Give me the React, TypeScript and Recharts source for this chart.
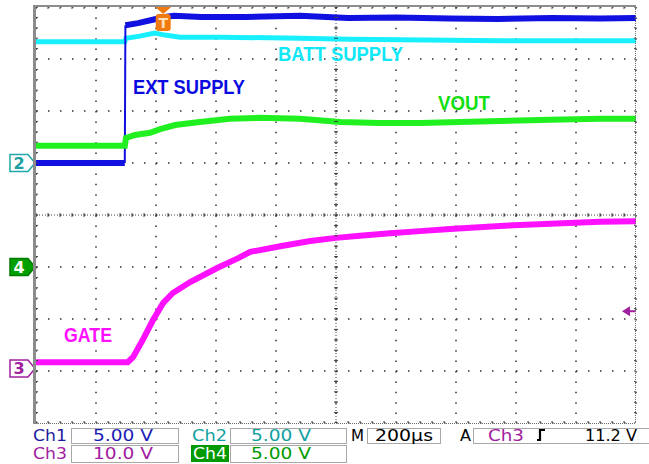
import React from 'react';
import {
  ComposedChart,
  Line,
  XAxis,
  YAxis,
  CartesianGrid,
  ReferenceLine,
  ReferenceDot,
  Scatter,
} from 'recharts';

// Coordinates in graticule divisions: x 0..10 (200µs/div), y 0..8 from bottom
const ch1X = [0, 1.48, 1.49, 1.7, 2.0, 2.15, 2.3, 2.75, 3.5, 4.4, 5.2, 6.0, 6.9, 7.7, 8.6, 9.4, 10];
const ch1Y = [5.0, 5.0, 7.65, 7.69, 7.77, 7.81, 7.83, 7.81, 7.81, 7.83, 7.79, 7.8, 7.78, 7.77, 7.79, 7.78, 7.79];

const ch2X = [0, 1.48, 1.5, 1.73, 1.98, 2.15, 2.4, 3.07, 4.4, 5.23, 6.07, 7.73, 10];
const ch2Y = [7.33, 7.33, 7.4, 7.44, 7.5, 7.46, 7.42, 7.42, 7.4, 7.38, 7.37, 7.35, 7.35];

const ch4X = [0, 1.48, 1.5, 1.65, 1.9, 2.07, 2.32, 2.73, 3.23, 3.73, 4.4, 5.07, 5.73, 6.4, 7.07, 7.73, 8.57, 9.4, 10];
const ch4Y = [5.33, 5.33, 5.48, 5.54, 5.58, 5.65, 5.73, 5.79, 5.85, 5.87, 5.85, 5.79, 5.77, 5.77, 5.79, 5.81, 5.83, 5.85, 5.85];

const ch3X = [0, 1.53, 1.62, 1.78, 1.95, 2.12, 2.28, 2.57, 3.02, 3.37, 3.57, 4.07, 4.57, 5.0, 5.4, 5.9, 6.4, 6.9, 7.73, 8.57, 9.4, 10];
const ch3Y = [1.17, 1.17, 1.27, 1.6, 1.98, 2.31, 2.5, 2.71, 2.98, 3.17, 3.29, 3.4, 3.5, 3.56, 3.6, 3.65, 3.69, 3.73, 3.79, 3.83, 3.87, 3.88];

const xTicks = [0, 1, 2, 3, 4, 5, 6, 7, 8, 9, 10];
const yTicks = [0, 1, 2, 3, 4, 5, 6, 7, 8];

// channel ground markers (level in divisions)
const markerLevels = [
  { label: '2', y: 5.0, kind: 'ch2' },
  { label: '4', y: 3.0, kind: 'ch4' },
  { label: '3', y: 1.05, kind: 'ch3' },
];
const triggerTime = 2.12;
const triggerLevel = 2.15;

const traceLabels = [
  { text: 'EXT SUPPLY', x: 133, y: 94, len: 112, color: '#0a0ae0' },
  { text: 'BATT SUPPLY', x: 278, y: 61, len: 125, color: '#10e8f8' },
  { text: 'VOUT', x: 438, y: 110, len: 52, color: '#10e010' },
  { text: 'GATE', x: 64, y: 342, len: 48, color: '#ff10ff' },
];

const zip = (xs: number[], ys: number[]) => xs.map((x, i) => ({ x, y: ys[i] }));
const ch1 = zip(ch1X, ch1Y);
const ch2 = zip(ch2X, ch2Y);
const ch3 = zip(ch3X, ch3Y);
const ch4 = zip(ch4X, ch4Y);
const ch1Before = ch1.slice(0, 2);
const ch1Edge = ch1.slice(1, 3);
const ch1After = ch1.slice(2);

const minorX = Array.from({ length: 51 }, (_, k) => k * 0.2);
const minorY = Array.from({ length: 41 }, (_, k) => k * 0.2);
const centerH = minorX.map((x) => ({ x, y: 4 }));
const centerV = minorY.map((y) => ({ x: 5, y }));
const borderB = minorX.map((x) => ({ x, y: 0 }));
const borderT = minorX.map((x) => ({ x, y: 8 }));
const borderL = minorY.map((y) => ({ x: 0, y }));
const borderR = minorY.map((y) => ({ x: 10, y }));

const W = 649;
const H = 464;
const TICK = '#404040';

const vTick = (len: number) => (p: any) => (
  <line x1={p.cx} x2={p.cx} y1={p.cy - len} y2={p.cy + len} stroke={TICK} strokeWidth={1} />
);
const hTick = (len: number) => (p: any) => (
  <line x1={p.cx - len} x2={p.cx + len} y1={p.cy} y2={p.cy} stroke={TICK} strokeWidth={1} />
);

const markerShape = (label: string, kind: string) => (p: any) => {
  const cx = p.cx;
  const cy = p.cy;
  const colors: Record<string, { stroke: string; fill: string; text: string }> = {
    ch2: { stroke: '#20a8a8', fill: '#ffffff', text: '#20a0a0' },
    ch4: { stroke: '#007a00', fill: '#00a000', text: '#ffffff' },
    ch3: { stroke: '#a020a0', fill: '#ffffff', text: '#a020a0' },
  };
  const c = colors[kind];
  const d = `M${cx - 26} ${cy - 8.5} H${cx - 8} L${cx - 1} ${cy} L${cx - 8} ${cy + 8.5} H${cx - 26} Z`;
  return (
    <g>
      <path d={d} fill={c.fill} stroke={c.stroke} strokeWidth={1.5} />
      <text
        x={cx - 17}
        y={cy + 6}
        textAnchor="middle"
        fontFamily="DejaVu Sans, sans-serif"
        fontSize={16}
        fontWeight="bold"
        fill={c.text}
      >
        {label}
      </text>
    </g>
  );
};

const triggerShape = (p: any) => {
  const cx = p.cx;
  const cy = p.cy;
  return (
    <g>
      <path d={`M${cx - 8} ${cy} H${cx + 8} L${cx} ${cy + 7} Z`} fill="#f07a10" />
      <rect x={cx - 7.5} y={cy + 7} width={15} height={17} rx={3} fill="#f07a10" />
      <text
        x={cx}
        y={cy + 21}
        textAnchor="middle"
        fontFamily="DejaVu Sans, sans-serif"
        fontSize={14}
        fontWeight="bold"
        fill="#ffe0c0"
      >
        T
      </text>
    </g>
  );
};

const levelShape = (p: any) => {
  const cx = p.cx;
  const cy = p.cy;
  return (
    <g>
      <path d={`M${cx - 14} ${cy} L${cx - 6} ${cy - 5} L${cx - 6} ${cy + 5} Z`} fill="#a020a0" />
      <line x1={cx - 6} x2={cx} y1={cy} y2={cy} stroke="#a020a0" strokeWidth={2} />
    </g>
  );
};

const Status = () => {
  const f = 'DejaVu Sans, Verdana, sans-serif';
  const t = (s: string, x: number, y: number, len: number, color: string) => (
    <text x={x} y={y} fontFamily={f} fontSize={15} fill={color} textLength={len} lengthAdjust="spacingAndGlyphs">
      {s}
    </text>
  );
  const box = (x: number, y: number, w: number, h: number) => (
    <rect x={x + 0.5} y={y + 0.5} width={w} height={h} fill="#ffffff" stroke="#a8a8a8" strokeWidth={1} />
  );
  return (
    <g>
      {box(71, 428, 107, 15)}
      {box(230, 428, 116, 15)}
      {box(367, 428, 73, 15)}
      {box(473, 428, 180, 15)}
      {box(71, 445, 107, 17)}
      {box(230, 445, 116, 17)}
      <rect x={191} y={445} width={38} height={17} fill="#009a00" />
      {t('Ch1', 33, 441, 34, '#1c1ca0')}
      {t('5.00 V', 93, 441, 60, '#1c1cb8')}
      {t('Ch2', 192, 441, 35, '#10a0a0')}
      {t('5.00 V', 251, 441, 60, '#10a0a0')}
      {t('M', 351, 441, 13, '#000000')}
      {t('200µs', 375, 441, 58, '#000000')}
      {t('A', 460, 441, 11, '#000000')}
      {t('Ch3', 488, 441, 36, '#a020a0')}
      <path d="M537 440 H540 V430 H545" fill="none" stroke="#000" strokeWidth={2.2} />
      {t('11.2 V', 585, 441, 52, '#000000')}
      {t('Ch3', 33, 459, 34, '#a020a0')}
      {t('10.0 V', 93, 459, 60, '#a020a0')}
      {t('Ch4', 193, 459, 34, '#ffffff')}
      {t('5.00 V', 251, 459, 60, '#009a00')}
    </g>
  );
};

export default function App() {
  return (
    <div style={{ position: 'absolute', left: 0, top: 0, width: W, height: H, background: '#ffffff' }}>
      <ComposedChart
        width={W}
        height={H}
        margin={{ top: 7, right: 13, bottom: 41, left: 36 }}
        style={{ position: 'absolute', left: 0, top: 0 }}
      >
        <XAxis dataKey="x" type="number" domain={[0, 10]} ticks={xTicks} hide allowDataOverflow />
        <YAxis dataKey="y" type="number" domain={[0, 8]} ticks={yTicks} hide allowDataOverflow />
        <CartesianGrid vertical={false} stroke="#303030" strokeWidth={1.5} strokeDasharray="1.5 10.5" />
        <CartesianGrid horizontal={false} stroke="#303030" strokeWidth={1.5} strokeDasharray="1.5 8.9" />
        <ReferenceLine y={4} stroke="#404040" strokeDasharray="1 2" />
        <ReferenceLine x={5} stroke="#404040" strokeDasharray="1 2" />
        <Scatter data={centerH} shape={vTick(2)} isAnimationActive={false} />
        <Scatter data={centerV} shape={hTick(2)} isAnimationActive={false} />
        <Scatter data={borderB} shape={vTick(2)} isAnimationActive={false} />
        <Scatter data={borderT} shape={vTick(2)} isAnimationActive={false} />
        <Scatter data={borderL} shape={hTick(2)} isAnimationActive={false} />
        <Scatter data={borderR} shape={hTick(2)} isAnimationActive={false} />
        <Line data={ch2} dataKey="y" type="linear" dot={false} stroke="#18f0ff" strokeWidth={5} isAnimationActive={false} />
        <Line data={ch1Before} dataKey="y" type="linear" dot={false} stroke="#1010e0" strokeWidth={6} isAnimationActive={false} />
        <Line data={ch1Edge} dataKey="y" type="linear" dot={false} stroke="#1010e0" strokeWidth={2} isAnimationActive={false} />
        <Line data={ch1After} dataKey="y" type="linear" dot={false} stroke="#1010e0" strokeWidth={6} isAnimationActive={false} />
        <Line data={ch4} dataKey="y" type="linear" dot={false} stroke="#20f020" strokeWidth={6} isAnimationActive={false} />
        <Line data={ch3} dataKey="y" type="linear" dot={false} stroke="#ff10ff" strokeWidth={6} isAnimationActive={false} />
        {markerLevels.map((m) => (
          <ReferenceDot key={m.label} x={0} y={m.y} ifOverflow="visible" shape={markerShape(m.label, m.kind)} />
        ))}
        <ReferenceDot x={triggerTime} y={8} ifOverflow="visible" shape={triggerShape} />
        <ReferenceDot x={10} y={triggerLevel} ifOverflow="visible" shape={levelShape} />
      </ComposedChart>
      <svg width={W} height={H} style={{ position: 'absolute', left: 0, top: 0, pointerEvents: 'none' }}>
        <rect x={33} y={5} width={603} height={2} fill="#8c8c8c" />
        <rect x={33} y={5} width={3} height={419} fill="#8c8c8c" />
        <line x1={635.5} x2={635.5} y1={7} y2={423} stroke="#707070" strokeDasharray="1 1" />
        <line x1={36} x2={636} y1={423.5} y2={423.5} stroke="#707070" strokeDasharray="1 1" />
        {traceLabels.map((l) => (
          <text
            key={l.text}
            x={l.x}
            y={l.y}
            fontFamily="Liberation Sans, Arial, sans-serif"
            fontWeight="bold"
            fontSize={21}
            fill={l.color}
            textLength={l.len}
            lengthAdjust="spacingAndGlyphs"
          >
            {l.text}
          </text>
        ))}
        <Status />
      </svg>
    </div>
  );
}
